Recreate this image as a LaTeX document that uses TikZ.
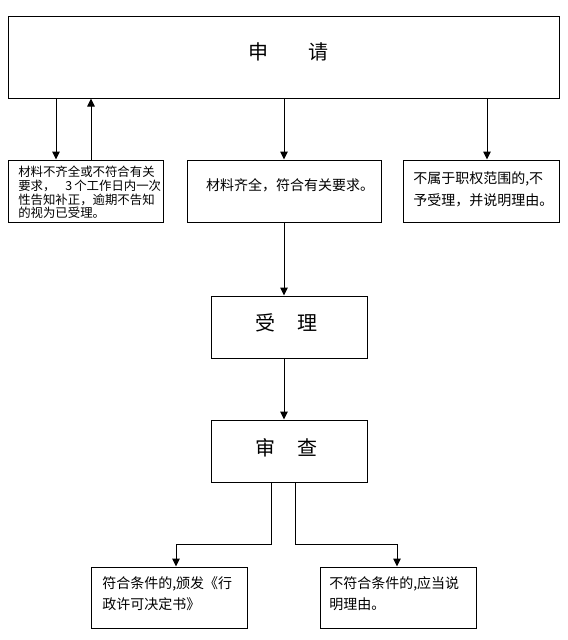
\documentclass[tikz,border=0pt]{standalone}
\usepackage{fontspec}
\newfontfamily\cjk{Noto Sans CJK SC}
\usetikzlibrary{arrows.meta}
\begin{document}
\begin{tikzpicture}[x=0.75pt,y=-0.75pt,
  box/.style={draw, line width=0.75pt, rectangle, inner sep=0pt},
  arr/.style={-{Triangle[length=6pt,width=5.6pt]}, line width=0.75pt},
  ln/.style={line width=0.75pt},
  big/.style={font=\cjk\fontsize{15}{18}\selectfont, inner sep=0pt},
  mid/.style={font=\cjk\fontsize{10.5}{17}\selectfont, align=left, inner sep=0pt},
  sml/.style={font=\cjk\fontsize{9.3}{10.2}\selectfont, align=left, inner sep=0pt},
  bot/.style={font=\cjk\fontsize{10.5}{15.8}\selectfont, align=left, inner sep=0pt}]
\useasboundingbox (0,0) rectangle (568,640);
% boxes
\node[box, minimum width={551*0.75pt}, minimum height={82*0.75pt}] (apply) at (283.5,57) {};
\node[box, minimum width={155*0.75pt}, minimum height={62*0.75pt}] (b1) at (85.5,191) {};
\node[box, minimum width={194*0.75pt}, minimum height={62*0.75pt}] (b2) at (284,191) {};
\node[box, minimum width={156*0.75pt}, minimum height={62*0.75pt}] (b3) at (481,191) {};
\node[box, minimum width={156*0.75pt}, minimum height={62*0.75pt}] (accept) at (289,327) {};
\node[box, minimum width={156*0.75pt}, minimum height={62*0.75pt}] (review) at (289,451) {};
\node[box, minimum width={156*0.75pt}, minimum height={61*0.75pt}] (yes) at (169,597.5) {};
\node[box, minimum width={156*0.75pt}, minimum height={61*0.75pt}] (no) at (398,597.5) {};
% texts
\node[big] (tapply) at (288,52) {申\hspace{2em}请};
\node[big] (taccept) at (286,323) {受\hspace{1.1em}理};
\node[big] (treview) at (286,448) {审\hspace{1.1em}查};
\node[sml, anchor=north west] (tb1) at (18,166) {材料不齐全或不符合有关\\要求，\hspace{0.8em}3\,个工作日内一次\\性告知补正，逾期不告知\\的视为已受理。};
\node[mid] (tb2) at (290,185) {材料齐全，符合有关要求。};
\node[mid, anchor=north west] (tb3) at (413,171) {不属于职权范围的,不\\予受理，并说明理由。};
\node[bot, anchor=north west] (tyes) at (102,576) {符合条件的,颁发《行\\政许可决定书》};
\node[bot, anchor=north west] (tno) at (329,576) {不符合条件的,应当说\\明理由。};
% helper coordinates
\coordinate (x1) at (56,0);
\coordinate (x2) at (91,0);
\coordinate (x3) at (284,0);
\coordinate (x4) at (487,0);
\coordinate (xl) at (271.5,0);
\coordinate (xr) at (295.5,0);
\coordinate (xyes) at (176,0);
\coordinate (xno) at (397,0);
\coordinate (hy) at (0,544.5);
% connectors
\draw[arr] (apply.south -| x1) -- (b1.north -| x1);
\draw[arr] (b1.north -| x2) -- (apply.south -| x2);
\draw[arr] (apply.south -| x3) -- (b2.north -| x3);
\draw[arr] (apply.south -| x4) -- (b3.north -| x4);
\draw[arr] (b2.south -| x3) -- (accept.north -| x3);
\draw[arr] (accept.south -| x3) -- (review.north -| x3);
\draw[arr] (review.south -| xl) |- (xyes |- hy) -- (yes.north -| xyes);
\draw[arr] (review.south -| xr) |- (xno |- hy) -- (no.north -| xno);
\end{tikzpicture}
\end{document}
